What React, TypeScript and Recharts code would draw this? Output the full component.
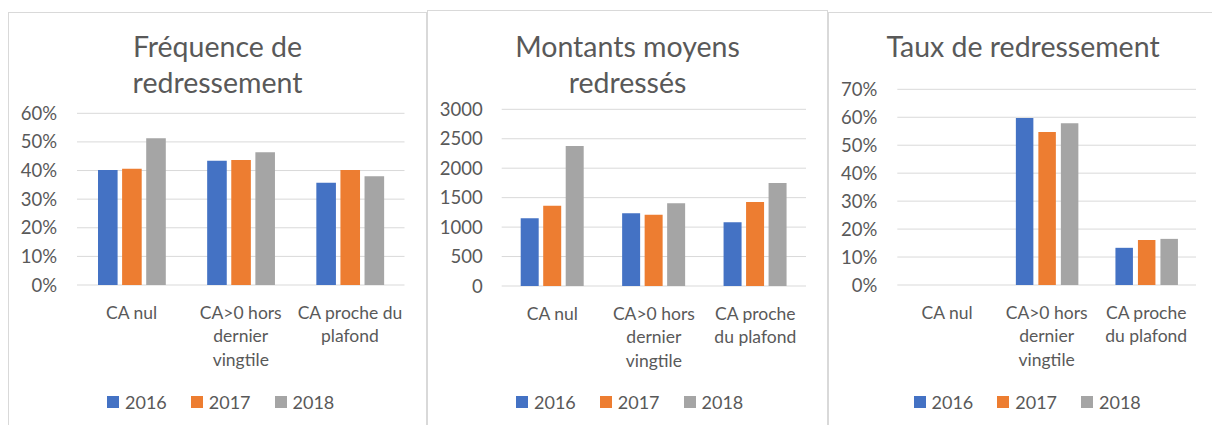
import React from 'react';
import { BarChart, Bar, XAxis, YAxis, CartesianGrid, Legend } from 'recharts';

const CATEGORIES = ['CA nul', 'CA>0 hors dernier vingtile', 'CA proche du plafond'];
const YEARS = ['2016', '2017', '2018'];
const COLORS = ['#4472C4', '#ED7D31', '#A5A5A5'];

// Fréquence de redressement (share)
const FREQ_2016 = [0.402, 0.434, 0.357];
const FREQ_2017 = [0.406, 0.437, 0.402];
const FREQ_2018 = [0.513, 0.464, 0.38];

// Montants moyens redressés
const MONTANT_2016 = [1149, 1234, 1081];
const MONTANT_2017 = [1363, 1211, 1426];
const MONTANT_2018 = [2377, 1404, 1749];

// Taux de redressement (nothing for CA nul)
const TAUX_2016 = [null, 0.597, 0.133];
const TAUX_2017 = [null, 0.547, 0.161];
const TAUX_2018 = [null, 0.579, 0.165];

const PCT_TICKS_60 = [0, 0.1, 0.2, 0.3, 0.4, 0.5, 0.6];
const PCT_TICKS_70 = [0, 0.1, 0.2, 0.3, 0.4, 0.5, 0.6, 0.7];
const AMOUNT_TICKS = [0, 500, 1000, 1500, 2000, 2500, 3000];

// how the category names wrap under each chart
const LABELS_WIDE = [['CA nul'], ['CA>0 hors', 'dernier', 'vingtile'], ['CA proche du', 'plafond']];
const LABELS_NARROW = [['CA nul'], ['CA>0 hors', 'dernier', 'vingtile'], ['CA proche', 'du plafond']];

const TEXT = '#595959';
const GRID = '#D9D9D9';
const FONT = 'Lato, "Open Sans", sans-serif';

const buildRows = (s1: (number | null)[], s2: (number | null)[], s3: (number | null)[]) =>
  CATEGORIES.map((name, i) => ({ name, [YEARS[0]]: s1[i], [YEARS[1]]: s2[i], [YEARS[2]]: s3[i] }));

const pct = (v: number) => `${Math.round(v * 100)}%`;

const LegendBox = () => (
  <div style={{ display: 'flex', alignItems: 'center', fontFamily: FONT, fontSize: 18, color: TEXT, whiteSpace: 'nowrap' }}>
    {YEARS.map((y, i) => (
      <div key={y} style={{ display: 'flex', alignItems: 'center', marginRight: i < 2 ? 24 : 0 }}>
        <span style={{ width: 12, height: 12, background: COLORS[i], marginRight: 6, display: 'inline-block' }} />
        <span>{y}</span>
      </div>
    ))}
  </div>
);

interface PanelProps {
  left: number;
  top: number;
  width: number;
  plot: { x0: number; x1: number; y0: number; y1: number };
  title: string[];
  data: any[];
  ticks: number[];
  domainMax: number;
  formatter?: (v: number) => string;
  labels: string[][];
  barSize: number;
  barGap: number;
  legendLeft: number;
  tickGap: number;
}

const Panel = ({ left, top, width, plot, title, data, ticks, domainMax, formatter, labels, barSize, barGap, legendLeft, tickGap }: PanelProps) => {
  const height = 440 - top;
  const xAxisH = 30;
  const margin = {
    top: plot.y0 - top,
    right: left + width - plot.x1,
    bottom: height - (plot.y1 - top) - xAxisH,
    left: 0,
  };

  const CategoryTick = ({ x, y, payload }: any) => {
    const lines = labels[CATEGORIES.indexOf(payload.value)] || [payload.value];
    return (
      <text x={x} y={y + 34} textAnchor="middle" fill={TEXT} fontSize={17.5} fontFamily={FONT}>
        {lines.map((l, i) => (
          <tspan key={i} x={x} dy={i === 0 ? 0 : 23.4}>
            {l}
          </tspan>
        ))}
      </text>
    );
  };

  return (
    <div
      style={{
        position: 'absolute',
        left,
        top,
        width,
        height,
        border: `1px solid ${GRID}`,
        boxSizing: 'border-box',
        background: '#fff',
      }}
    >
      <div
        style={{
          position: 'absolute',
          left: -1,
          width,
          top: 27.8 - top - 1,
          textAlign: 'center',
          fontFamily: FONT,
          fontSize: 28.5,
          lineHeight: '36px',
          color: TEXT,
        }}
      >
        {title.map((t) => (
          <div key={t}>{t}</div>
        ))}
      </div>
      <div style={{ position: 'absolute', left: -1, top: -1 }}>
        <BarChart width={width} height={height} data={data} margin={margin} barSize={barSize} barGap={barGap}>
          <CartesianGrid vertical={false} stroke={GRID} />
          <XAxis dataKey="name" axisLine={false} tickLine={false} tickSize={0} tickMargin={0} height={xAxisH} interval={0} tick={<CategoryTick />} />
          <YAxis
            width={plot.x0 - left}
            domain={[0, domainMax]}
            ticks={ticks}
            tickFormatter={formatter}
            axisLine={false}
            tickLine={false}
            tickSize={0}
            tickMargin={tickGap}
            tick={{ fill: TEXT, fontSize: 18.5, fontFamily: FONT }}
            interval={0}
          />
          <Legend
            verticalAlign="middle"
            align="center"
            content={<LegendBox />}
            wrapperStyle={{ left: legendLeft - left, top: 391 - top, width: 'auto', bottom: 'auto', right: 'auto' }}
          />
          {YEARS.map((y, i) => (
            <Bar key={y} dataKey={y} fill={COLORS[i]} isAnimationActive={false} />
          ))}
        </BarChart>
      </div>
    </div>
  );
};

export default function App() {
  return (
    <div style={{ position: 'fixed', left: 0, top: 0, width: 1212, height: 425, overflow: 'hidden', background: '#fff' }}>
      <Panel
        left={8}
        top={12}
        width={419}
        plot={{ x0: 77, x1: 404.5, y0: 113.3, y1: 285 }}
        title={['Fréquence de', 'redressement']}
        data={buildRows(FREQ_2016, FREQ_2017, FREQ_2018)}
        ticks={PCT_TICKS_60}
        domainMax={0.6}
        formatter={pct}
        labels={LABELS_WIDE}
        barSize={19.6}
        barGap={4.5}
        legendLeft={107}
        tickGap={20}
      />
      <Panel
        left={828}
        top={12}
        width={390}
        plot={{ x0: 897.3, x1: 1196, y0: 89.3, y1: 285 }}
        title={['Taux de redressement']}
        data={buildRows(TAUX_2016, TAUX_2017, TAUX_2018)}
        ticks={PCT_TICKS_70}
        domainMax={0.7}
        formatter={pct}
        labels={LABELS_NARROW}
        barSize={17.5}
        barGap={5}
        legendLeft={913.5}
        tickGap={20}
      />
      <Panel
        left={427}
        top={10}
        width={401}
        plot={{ x0: 501.7, x1: 806, y0: 109.3, y1: 286 }}
        title={['Montants moyens', 'redressés']}
        data={buildRows(MONTANT_2016, MONTANT_2017, MONTANT_2018)}
        ticks={AMOUNT_TICKS}
        domainMax={3000}
        labels={LABELS_NARROW}
        barSize={18}
        barGap={4.5}
        legendLeft={516}
        tickGap={19}
      />
    </div>
  );
}
